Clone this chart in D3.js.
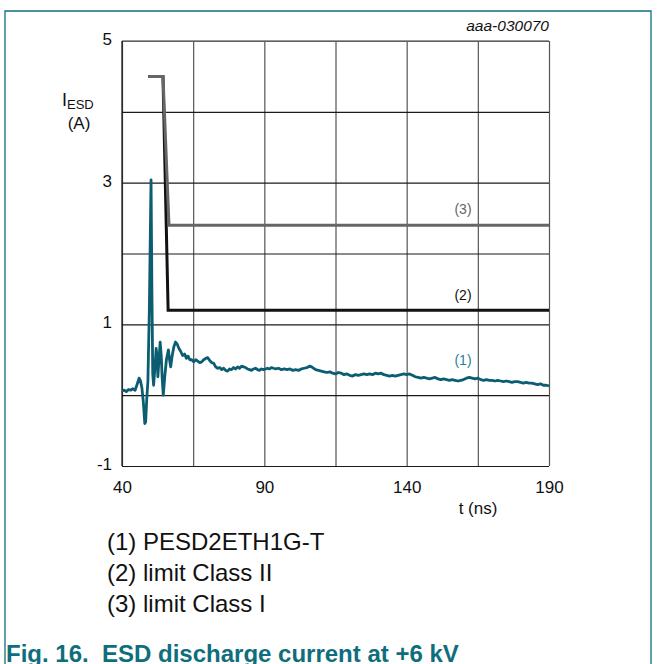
<!DOCTYPE html>
<html>
<head>
<meta charset="utf-8">
<script src="https://cdn.jsdelivr.net/npm/d3@7"></script>
<style>
  html, body { margin: 0; padding: 0; background: #fff; }
  svg { display: block; font-family: "Liberation Sans", Arial, sans-serif; }
</style>
</head>
<body>
<svg id="chart" width="660" height="664"></svg>
<script>
// ---------- data ----------
const xTickLabels = [40, 90, 140, 190];
const xGrid = [40, 65, 90, 115, 140, 165, 190];
const yTickLabels = [5, 3, 1, -1];
const yGrid = [-1, 0, 1, 2, 3, 4, 5];

const classI_t = [49.2, 54.4, 56.5, 190];
const classI_v = [4.5, 4.5, 2.4, 2.4];
const classII_t = [49.2, 54.4, 56.2, 190];
const classII_v = [4.5, 4.5, 1.2, 1.2];

const traceT = [40, 40.8, 41.5, 42.3, 43.0, 43.8, 44.6, 45.3, 46.0, 46.5, 47.0, 47.5, 48.0, 48.3, 48.7, 49.1, 49.6, 50.2, 50.5, 50.8, 51.1, 51.6, 52.0, 52.3, 52.6, 53.0, 53.4, 53.8, 54.1, 54.5, 55.0, 55.6, 56.3, 56.7, 57.1, 57.6, 58.2, 58.8, 59.4, 60.0, 60.6, 61.3, 62.0, 62.6, 63.2, 63.8, 64.5, 65.2, 65.9, 66.6, 67.3, 68.0, 68.7, 69.4, 70.1, 70.8, 71.5, 72.2, 72.9, 73.6, 74.3, 75.0, 75.7, 76.4, 77.1, 77.8, 78.5, 79.2, 79.9, 80.6, 81.3, 82.0, 82.7, 83.4, 84.1, 84.8, 85.5, 86.2, 86.9, 87.6, 88.3, 89.0, 89.7, 90.4, 91.1, 91.8, 92.5, 93.2, 94, 95, 96, 97, 98, 99, 100, 101, 102, 103, 104, 105, 106, 107, 108, 109, 110, 111, 112, 113, 114, 115, 116, 117, 118, 119, 120, 121, 122, 123, 124, 125, 126, 127, 128, 129, 130, 131, 132, 133, 134, 135, 136, 137, 138, 139, 140, 141, 142, 143, 144, 145, 146, 147, 148, 149, 150, 151, 152, 153, 154, 155, 156, 157, 158, 159, 160, 161, 162, 163, 164, 165, 166, 167, 168, 169, 170, 171, 172, 173, 174, 175, 176, 177, 178, 179, 180, 181, 182, 183, 184, 185, 186, 187, 188, 189, 190];
const traceI = [0.06, 0.07, 0.05, 0.08, 0.07, 0.09, 0.07, 0.15, 0.24, 0.20, 0.10, -0.10, -0.40, -0.38, -0.05, 0.20, 1.20, 3.04, 1.50, 0.30, 0.14, 0.40, 0.66, 0.55, 0.26, 0.50, 0.75, 0.55, 0.25, 0.00, 0.25, 0.50, 0.64, 0.50, 0.40, 0.55, 0.68, 0.75, 0.72, 0.66, 0.62, 0.56, 0.58, 0.52, 0.55, 0.50, 0.50, 0.47, 0.50, 0.48, 0.46, 0.47, 0.50, 0.52, 0.53, 0.49, 0.46, 0.45, 0.40, 0.38, 0.39, 0.36, 0.38, 0.35, 0.34, 0.37, 0.36, 0.39, 0.37, 0.40, 0.38, 0.41, 0.40, 0.39, 0.37, 0.36, 0.35, 0.37, 0.38, 0.36, 0.35, 0.37, 0.36, 0.37, 0.38, 0.37, 0.39, 0.38, 0.37, 0.38, 0.36, 0.37, 0.36, 0.37, 0.35, 0.36, 0.35, 0.37, 0.38, 0.39, 0.41, 0.39, 0.36, 0.35, 0.34, 0.33, 0.32, 0.33, 0.31, 0.30, 0.32, 0.31, 0.29, 0.30, 0.28, 0.27, 0.29, 0.28, 0.29, 0.30, 0.29, 0.30, 0.29, 0.31, 0.30, 0.31, 0.29, 0.28, 0.27, 0.28, 0.27, 0.28, 0.29, 0.30, 0.29, 0.30, 0.28, 0.26, 0.25, 0.24, 0.25, 0.24, 0.23, 0.24, 0.25, 0.23, 0.22, 0.23, 0.22, 0.21, 0.22, 0.21, 0.20, 0.21, 0.22, 0.24, 0.25, 0.24, 0.23, 0.24, 0.22, 0.21, 0.22, 0.21, 0.21, 0.20, 0.21, 0.20, 0.19, 0.20, 0.19, 0.18, 0.19, 0.19, 0.18, 0.17, 0.18, 0.17, 0.17, 0.16, 0.15, 0.16, 0.14, 0.14, 0.13];

const legendLabels = ["(1) PESD2ETH1G-T", "(2) limit Class II", "(3) limit Class I"];

// ---------- drawing ----------
const svg = d3.select("#chart");
const teal = "#0f6e7e";
const x = d3.scaleLinear().domain([40, 190]).range([122, 549]);
const y = d3.scaleLinear().domain([-1, 5]).range([466, 41]);
const fmt = d => String(d);  // plain hyphen-minus like the reference

// figure frame
svg.append("path")
  .attr("d", "M5,664 V11 H651 V664")
  .attr("fill", "none").attr("stroke", teal).attr("stroke-width", 1.3);

// grid via axes
svg.append("g").attr("transform", `translate(0,${y(-1)})`)
  .call(d3.axisBottom(x).tickValues(xGrid).tickSize(-(y(-1) - y(5))).tickFormat(""))
  .call(g => g.select(".domain").remove())
  .call(g => g.selectAll("line").attr("stroke", "#555").attr("stroke-width", 1.2));
svg.append("g").attr("transform", `translate(${x(40)},0)`)
  .call(d3.axisLeft(y).tickValues(yGrid).tickSize(-(x(190) - x(40))).tickFormat(""))
  .call(g => g.select(".domain").remove())
  .call(g => g.selectAll("line").attr("stroke", "#1a1a1a").attr("stroke-width", 1.2));
svg.append("line").attr("x1", x(40)).attr("x2", x(190)).attr("y1", y(5)).attr("y2", y(5))
  .attr("stroke", "#777").attr("stroke-width", 1.5);
svg.append("line").attr("x1", x(40)).attr("x2", x(40)).attr("y1", y(5)).attr("y2", y(-1))
  .attr("stroke", "#111").attr("stroke-width", 1.2);

// tick labels
svg.append("g").attr("transform", `translate(0,${y(-1)})`)
  .call(d3.axisBottom(x).tickValues(xTickLabels).tickSize(0).tickPadding(15).tickFormat(fmt))
  .call(g => g.select(".domain").remove())
  .call(g => g.selectAll("text").attr("font-size", 17).attr("fill", "#111")
    .attr("font-family", "Liberation Sans, Arial, sans-serif"));
svg.append("g").attr("transform", `translate(${x(40)},0)`)
  .call(d3.axisLeft(y).tickValues(yTickLabels).tickSize(0).tickPadding(10).tickFormat(fmt))
  .call(g => g.select(".domain").remove())
  .call(g => g.selectAll("text").attr("font-size", 17).attr("fill", "#111").attr("dy", "0.2em")
    .attr("font-family", "Liberation Sans, Arial, sans-serif"));

// axis titles
svg.append("text").attr("x", 478).attr("y", 514).attr("text-anchor", "middle")
  .attr("font-size", 17).attr("fill", "#111").text("t (ns)");
const yt = svg.append("text").attr("x", 62).attr("y", 106).attr("font-size", 18).attr("fill", "#111");
yt.append("tspan").text("I");
yt.append("tspan").attr("font-size", 13).attr("dy", 3).text("ESD");
svg.append("text").attr("x", 79).attr("y", 129).attr("text-anchor", "middle")
  .attr("font-size", 17).attr("fill", "#111").text("(A)");

// code label
svg.append("text").attr("x", 549).attr("y", 31).attr("text-anchor", "end")
  .attr("font-size", 15.5).attr("font-style", "italic").attr("fill", "#111").text("aaa-030070");

// lines
const line = d3.line().x(d => x(d[0])).y(d => y(d[1]));
svg.append("path").datum(classII_t.map((t, i) => [t, classII_v[i]]))
  .attr("d", line).attr("fill", "none").attr("stroke", "#111").attr("stroke-width", 3);
svg.append("path").datum(classI_t.map((t, i) => [t, classI_v[i]]))
  .attr("d", line).attr("fill", "none").attr("stroke", "#666").attr("stroke-width", 3);
svg.append("path").datum(traceT.map((t, i) => [t, traceI[i]]))
  .attr("d", line).attr("fill", "none").attr("stroke", "#0c5d72").attr("stroke-width", 2.8)
  .attr("stroke-linejoin", "round");

// series labels
svg.append("text").attr("x", 463).attr("y", 214).attr("text-anchor", "middle")
  .attr("font-size", 14).attr("fill", "#666").text("(3)");
svg.append("text").attr("x", 463).attr("y", 300).attr("text-anchor", "middle")
  .attr("font-size", 14).attr("fill", "#111").text("(2)");
svg.append("text").attr("x", 463).attr("y", 365).attr("text-anchor", "middle")
  .attr("font-size", 14).attr("fill", "#2c7f95").text("(1)");

// legend
svg.selectAll("text.legend").data(legendLabels).join("text")
  .attr("class", "legend")
  .attr("x", 107).attr("y", (d, i) => 550 + i * 31)
  .attr("font-size", 24).attr("fill", "#111").text(d => d);

// caption (the reference crops it at the bottom edge)
svg.append("text").attr("x", 6).attr("y", 662)
  .attr("font-size", 24).attr("font-weight", "bold").attr("fill", teal)
  .attr("xml:space", "preserve")
  .text("Fig. 16.  ESD discharge current at +6 kV");
</script>
</body>
</html>
